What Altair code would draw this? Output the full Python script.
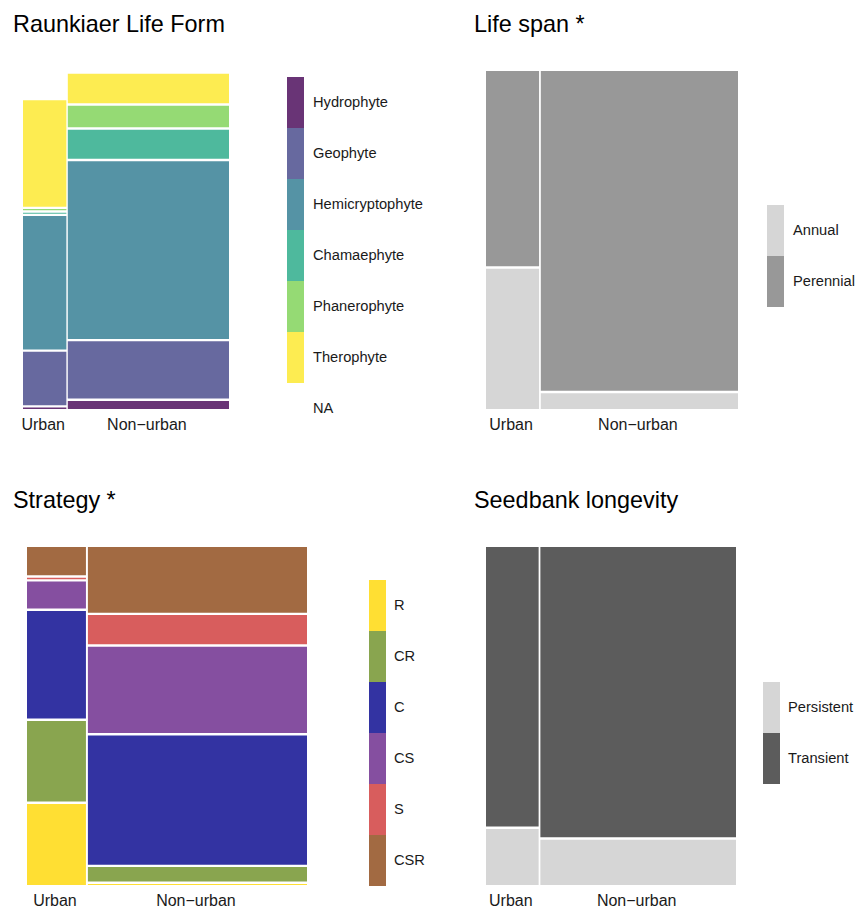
import altair as alt
import pandas as pd

FONT = "Liberation Sans"

# ---- data (proportions) ----
sites = ["Urban", "Non\u2212urban"]
site_share = [0.212, 0.788]

raunk_levels = ["Hydrophyte", "Geophyte", "Hemicryptophyte", "Chamaephyte",
                "Phanerophyte", "Therophyte", "NA"]
raunk_urban = [0.0046, 0.165, 0.412, 0.003, 0.004, 0.329, 0.083]
raunk_nonurban = [0.025, 0.177, 0.549, 0.090, 0.067, 0.091, 0.0015]
raunk_colors = ["#693476", "#67699f", "#5593a5", "#4eb99d", "#95da74", "#fdec51", "#ffffff"]

life_levels = ["Annual", "Perennial"]
life_urban = [0.418, 0.582]
life_nonurban = [0.047, 0.953]
life_colors = ["#d6d6d6", "#989898"]

strat_levels = ["R", "CR", "C", "CS", "S", "CSR"]
strat_urban = [0.2484, 0.2475, 0.330, 0.0828, 0.0046, 0.0868]
strat_nonurban = [0.0031, 0.0448, 0.396, 0.2649, 0.0899, 0.2013]
strat_colors = ["#ffdf33", "#89a54f", "#3333a2", "#854fa0", "#d85d5d", "#a26a42"]

seed_levels = ["Persistent", "Transient"]
seed_urban = [0.167, 0.833]
seed_nonurban = [0.135, 0.865]
seed_colors = ["#d6d6d6", "#5c5c5c"]

GX = 0.007  # gap between columns (data units)
GY = 0.007  # gap between tiles (data units)

SYMBOL = "M-1,-3L1,-3L1,3L-1,3Z"


def mosaic_df(levels, cols):
    rows = []
    tot = sum(site_share)
    avail_x = 1 - GX * (len(sites) - 1)
    x0 = 0.0
    centers = []
    bounds = []
    for j, site in enumerate(sites):
        w = site_share[j] / tot * avail_x
        props = cols[j]
        s = sum(props)
        avail_y = 1 - GY * (len(levels) - 1)
        y0 = 0.0
        for i, lev in enumerate(levels):
            h = props[i] / s * avail_y
            rows.append(dict(site=site, level=lev, x=x0, x2=x0 + w, y=y0, y2=y0 + h))
            y0 += h + GY
        centers.append(x0 + w / 2)
        bounds.append(x0 + w + GX / 2)
        x0 += w + GX
    return pd.DataFrame(rows), centers, bounds


def panel(title, levels, urban, nonurban, colors, width, pad, lx, ly, loff):
    df, centers, bounds = mosaic_df(levels, [urban, nonurban])
    label_expr = f"datum.value < {bounds[0]} ? '{sites[0]}' : '{sites[1]}'"
    return alt.Chart(df).mark_rect().encode(
        x=alt.X("x:Q",
                scale=alt.Scale(domain=[0, 1], nice=False, zero=False, padding=pad),
                axis=alt.Axis(values=centers, labelExpr=label_expr, title=None,
                              domain=False, ticks=False, grid=False, tickSize=0,
                              labelPadding=7, labelFontSize=16, labelFont=FONT,
                              labelColor="#1a1a1a", labelFlush=False, labelOffset=-2,
                              labelOverlap=False, labelAngle=0)),
        x2="x2:Q",
        y=alt.Y("y:Q", scale=alt.Scale(domain=[0, 1], nice=False, zero=False), axis=None),
        y2="y2:Q",
        color=alt.Color("level:N", sort=levels,
                        scale=alt.Scale(domain=levels, range=colors),
                        legend=alt.Legend(title=None, orient="none", legendX=lx, legendY=ly,
                                          symbolType=SYMBOL, symbolSize=289,
                                          symbolStrokeWidth=0, symbolOpacity=1,
                                          labelFontSize=14.67, labelFont=FONT,
                                          labelColor="#1a1a1a", labelOffset=loff,
                                          rowPadding=0, padding=0, labelLimit=300)),
    ).properties(
        width=width, height=338,
        title=alt.Title(title, anchor="start", fontSize=23.4, font=FONT,
                        fontWeight="normal", color="black", offset=16,
                        baseline="alphabetic"),
    )


p1 = panel("Raunkiaer Life Form", raunk_levels, raunk_urban, raunk_nonurban,
           raunk_colors, 226, 10, 274, 23, 9)
p2 = panel("Life span *", life_levels, life_urban, life_nonurban,
           life_colors, 276, 12, 293, 151, 9)
p3 = panel("Strategy *", strat_levels, strat_urban, strat_nonurban,
           strat_colors, 308, 14, 356, 50, 8)
p4 = panel("Seedbank longevity", seed_levels, seed_urban, seed_nonurban,
           seed_colors, 274, 12, 289, 152, 8)

chart = alt.concat(p1, p2, p3, p4, columns=2,
                   spacing={"row": 138, "column": 153},
                   bounds="flush").resolve_scale(color="independent").configure_view(
    stroke=None)
chart = chart.properties(
    autosize=alt.AutoSizeParams(type="none"),
    padding={"left": 5, "top": 63, "right": 0, "bottom": 0},
    params=[alt.VariableParameter(name="width", value=845),
            alt.VariableParameter(name="height", value=840)],
)

chart.save("out.html", embed_options={"renderer": "svg", "actions": False})
